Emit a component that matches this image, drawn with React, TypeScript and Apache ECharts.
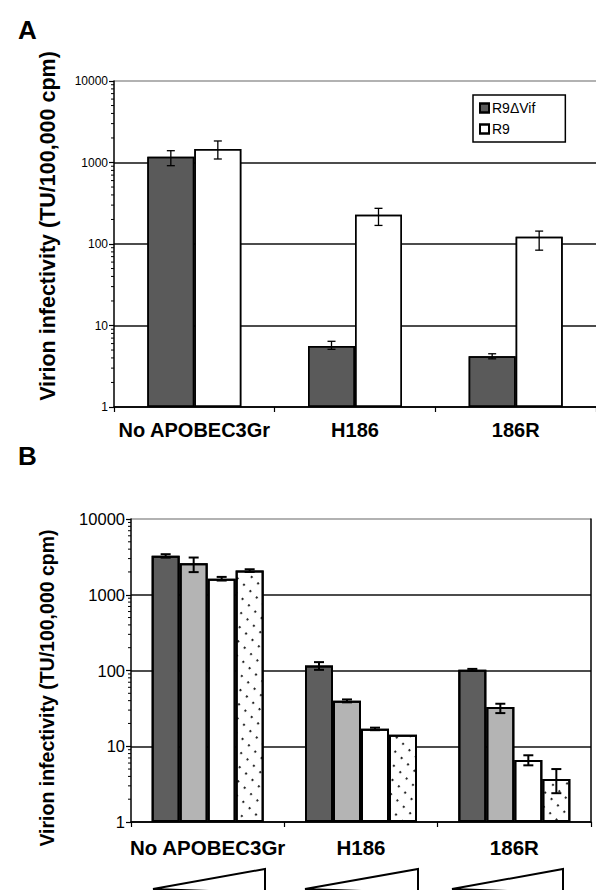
import React, { useEffect, useRef } from "react";
import * as echarts from "echarts";

// ---------- Panel A data ----------
const categoriesA = ["No APOBEC3Gr", "H186", "186R"];
const seriesNamesA = ["R9ΔVif", "R9"];
const r9dVifValues = [1180, 5.6, 4.2];
const r9dVifLow = [914, 5.1, 3.9];
const r9dVifHigh = [1396, 6.4, 4.5];
const r9Values = [1466, 228, 123];
const r9Low = [1104, 169, 84];
const r9High = [1837, 274, 144];

// ---------- Panel B data (increasing APOBEC3Gr dose) ----------
const categoriesB = ["No APOBEC3Gr", "H186", "186R"];
const dose1Values = [3260, 116, 102];
const dose1Low = [3090, 102, 99];
const dose1High = [3430, 129, 105];
const dose2Values = [2600, 39.8, 32.9];
const dose2Low = [1990, 38, 27.4];
const dose2High = [3100, 41.5, 36.4];
const dose3Values = [1630, 17.0, 6.6];
const dose3Low = [1540, 16.3, 5.6];
const dose3High = [1720, 17.6, 7.6];
const dose4Values = [2085, 14.2, 3.7];
const dose4Low = [2000, null, 2.4];
const dose4High = [2170, null, 5.0];

const yTickLabels = ["1", "10", "100", "1000", "10000"];
const minorTickValues = [
  2, 3, 4, 5, 6, 7, 8, 9,
  20, 30, 40, 50, 60, 70, 80, 90,
  200, 300, 400, 500, 600, 700, 800, 900,
  2000, 3000, 4000, 5000, 6000, 7000, 8000, 9000,
];

const FONT = "Liberation Sans, Arial, sans-serif";

function errorSeries(idx: number, low: (number | null)[], high: (number | null)[], offset: number, cap: number, lw: number) {
  const data: number[][] = [];
  low.forEach((l, i) => {
    if (l != null && high[i] != null) data.push([i, l as number, high[i] as number]);
  });
  return {
    type: "custom",
    xAxisIndex: idx,
    yAxisIndex: idx,
    silent: true,
    z: 10,
    data,
    renderItem: (params: any, api: any) => {
      const x = api.value(0);
      const lo = api.coord([x, api.value(1)]);
      const hi = api.coord([x, api.value(2)]);
      const cx = lo[0] + offset;
      const st = { stroke: "#000", lineWidth: lw };
      return {
        type: "group",
        children: [
          { type: "line", shape: { x1: cx, y1: lo[1], x2: cx, y2: hi[1] }, style: st },
          { type: "line", shape: { x1: cx - cap / 2, y1: lo[1], x2: cx + cap / 2, y2: lo[1] }, style: st },
          { type: "line", shape: { x1: cx - cap / 2, y1: hi[1], x2: cx + cap / 2, y2: hi[1] }, style: st },
        ],
      };
    },
  };
}

function minorTicks(idx: number) {
  return {
    type: "custom",
    xAxisIndex: idx,
    yAxisIndex: idx,
    silent: true,
    clip: false,
    z: 10,
    data: minorTickValues.map((v) => [0, v]),
    renderItem: (params: any, api: any) => {
      const y = api.coord([0, api.value(1)])[1];
      const x0 = params.coordSys.x;
      return { type: "line", shape: { x1: x0 - 3, y1: y, x2: x0, y2: y }, style: { stroke: "#000", lineWidth: 1 } };
    },
  };
}

const noDecal = { symbol: "rect", color: "rgba(0,0,0,0)", dashArrayX: [1, 0], dashArrayY: [1, 0] };
const barItem = (color: string, bw: number) => ({ color, borderColor: "#000", borderWidth: bw, decal: noDecal });

export default function App() {
  const ref = useRef<HTMLDivElement>(null);
  useEffect(() => {
    if (!ref.current) return;
    const chart = echarts.init(ref.current, undefined, { renderer: "svg" });
    const yAxisCommon = (fontSize: number, gridIndex: number) => ({
      type: "log",
      logBase: 10,
      min: 1,
      max: 10000,
      gridIndex,
      axisLine: { show: true, lineStyle: { color: "#000", width: 1.5 } },
      axisTick: { show: true, length: 5, lineStyle: { color: "#000", width: 1.2 } },
      axisLabel: {
        fontSize,
        color: "#000",
        fontFamily: FONT,
        margin: 6,
        formatter: (v: number) => yTickLabels[Math.round(Math.log10(v))] ?? String(Math.round(v)),
      },
      splitLine: {
        show: true,
        lineStyle: { color: ["#000", "#111", "#111", "#111", "#999"], width: 1.5 },
      },
    });
    const xAxisCommon = (data: string[], gridIndex: number, margin: number, fontSize: number) => ({
      type: "category",
      data,
      gridIndex,
      axisLine: { show: true, lineStyle: { color: "#000", width: 1.5 } },
      axisTick: { show: true, length: 5, lineStyle: { color: "#000", width: 1.2 } },
      axisLabel: { interval: 0, fontSize, fontWeight: "bold", color: "#000", fontFamily: FONT, margin },
    });
    const bwA = 47;
    const bwB = 28;
    chart.setOption({
      animation: false,
      backgroundColor: "#fff",
      aria: { enabled: true, decal: { show: true } },
      grid: [
        { left: 114, top: 81, width: 489, height: 326 },
        { left: 131, top: 519, width: 460, height: 303 },
      ],
      xAxis: [xAxisCommon(categoriesA, 0, 13, 20), xAxisCommon(categoriesB, 1, 15, 20.5)],
      yAxis: [
        yAxisCommon(12, 0),
        yAxisCommon(16.5, 1),
        {
          type: "log",
          logBase: 10,
          min: 1,
          max: 10000,
          gridIndex: 1,
          position: "right",
          axisLine: { show: true, lineStyle: { color: "#000", width: 1.5 } },
          axisTick: { show: false },
          axisLabel: { show: false },
          splitLine: { show: false },
        },
      ],
      legend: {
        data: seriesNamesA,
        orient: "vertical",
        left: 473,
        top: 95,
        borderColor: "#000",
        borderWidth: 1.5,
        padding: [6, 30, 6, 6],
        itemWidth: 9,
        itemHeight: 9,
        itemGap: 7,
        icon: "rect",
        textStyle: { fontSize: 14, color: "#000", fontFamily: FONT, padding: [0, 0, 0, -2] },
      },
      graphic: [
        { type: "text", left: 18, top: 17, style: { text: "A", fontSize: 26, fontWeight: "bold", fontFamily: FONT, fill: "#000" } },
        { type: "text", left: 18, top: 443, style: { text: "B", fontSize: 26, fontWeight: "bold", fontFamily: FONT, fill: "#000" } },
        {
          type: "text",
          x: 48,
          y: 226,
          rotation: Math.PI / 2,
          style: { text: "Virion infectivity (TU/100,000 cpm)", fontSize: 21.5, fontWeight: "bold", fontFamily: FONT, fill: "#000", align: "center", verticalAlign: "middle" },
        },
        {
          type: "text",
          x: 47,
          y: 688,
          rotation: Math.PI / 2,
          style: { text: "Virion infectivity (TU/100,000 cpm)", fontSize: 19.5, fontWeight: "bold", fontFamily: FONT, fill: "#000", align: "center", verticalAlign: "middle" },
        },
        { type: "polygon", shape: { points: [[153, 889], [265, 869], [265, 893]] }, style: { fill: "#fff", stroke: "#000", lineWidth: 2 } },
        { type: "polygon", shape: { points: [[305, 889], [418, 869], [418, 893]] }, style: { fill: "#fff", stroke: "#000", lineWidth: 2 } },
        { type: "polygon", shape: { points: [[452, 889], [563, 869], [563, 893]] }, style: { fill: "#fff", stroke: "#000", lineWidth: 2 } },
      ],
      series: [
        { name: seriesNamesA[0], type: "bar", xAxisIndex: 0, yAxisIndex: 0, data: r9dVifValues, barWidth: bwA, barGap: "0%", itemStyle: barItem("#5a5a5a", 1.5) },
        { name: seriesNamesA[1], type: "bar", xAxisIndex: 0, yAxisIndex: 0, data: r9Values, barWidth: bwA, barGap: "0%", itemStyle: barItem("#ffffff", 1.5) },
        errorSeries(0, r9dVifLow, r9dVifHigh, -bwA / 2, 8, 1.3),
        errorSeries(0, r9Low, r9High, bwA / 2, 8, 1.3),
        minorTicks(0),

        { name: "dose 1", type: "bar", xAxisIndex: 1, yAxisIndex: 1, data: dose1Values, barWidth: bwB, barGap: "0%", itemStyle: barItem("#5e5e5e", 2) },
        { name: "dose 2", type: "bar", xAxisIndex: 1, yAxisIndex: 1, data: dose2Values, barWidth: bwB, barGap: "0%", itemStyle: barItem("#b4b4b4", 2) },
        { name: "dose 3", type: "bar", xAxisIndex: 1, yAxisIndex: 1, data: dose3Values, barWidth: bwB, barGap: "0%", itemStyle: barItem("#ffffff", 2) },
        {
          name: "dose 4",
          type: "bar",
          xAxisIndex: 1,
          yAxisIndex: 1,
          data: dose4Values,
          barWidth: bwB,
          barGap: "0%",
          itemStyle: {
            color: "#ffffff",
            borderColor: "#000",
            borderWidth: 2,
            decal: { symbol: "circle", symbolSize: 1, color: "#000", backgroundColor: "#fff", dashArrayX: [2, 9], dashArrayY: [2, 7] },
          },
        },
        errorSeries(1, dose1Low, dose1High, -1.5 * bwB, 10, 2),
        errorSeries(1, dose2Low, dose2High, -0.5 * bwB, 10, 2),
        errorSeries(1, dose3Low, dose3High, 0.5 * bwB, 10, 2),
        errorSeries(1, dose4Low, dose4High, 1.5 * bwB, 10, 2),
        minorTicks(1),
      ],
    });
    return () => chart.dispose();
  }, []);
  return <div ref={ref} style={{ position: "fixed", left: 0, top: 0, width: 596, height: 890 }} />;
}
